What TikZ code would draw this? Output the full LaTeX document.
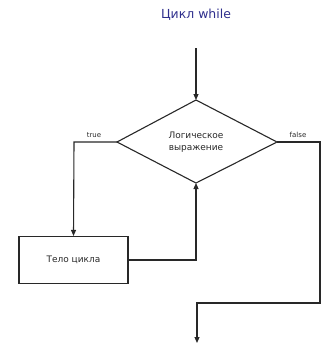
\documentclass[tikz,border=0pt]{standalone}
\usepackage{fontspec}
\setmainfont{DejaVu Sans}
\usetikzlibrary{arrows.meta,shapes.geometric}
\definecolor{titleblue}{HTML}{2E2E8C}
\definecolor{linegray}{HTML}{282828}
\begin{document}
\begin{tikzpicture}[x=1bp,y=-1bp,
  line/.style={draw=linegray,line width=1.1bp},
  arr/.style={line,-{Triangle[length=6bp,width=5bp]}},
  lbl/.style={font=\fontsize{7}{8}\selectfont,text=linegray,inner sep=0pt},
  boxtext/.style={font=\fontsize{9}{10.5}\selectfont,text=linegray}]
\useasboundingbox (0,0) rectangle (327,347);
\node[font=\fontsize{12.5}{14}\selectfont,text=titleblue] (title) at (196,15) {Цикл while};
\coordinate (start) at (196,48);
\coordinate (dt) at (196,100);
\coordinate (dl) at (117,142);
\coordinate (dr) at (277,142);
\coordinate (db) at (196,183);
\path[line] (dt) -- (dr) -- (db) -- (dl) -- cycle;
\node[boxtext,align=center] (cond) at (196,142) {Логическое\\[1bp]выражение};
\draw[arr] (start) -- (dt);
\node[line,minimum width=109bp,minimum height=47bp,inner sep=0pt] (body) at (73.5,260) {};
\node[boxtext] (bodytext) at (body.center) {Тело цикла};
\draw[arr] (dl) -- (74,142) -- (body.north);
\draw[arr] (body.east) -- (db |- body.east) -- (db);
\coordinate (endpt) at (197,343);
\draw[arr] (dr) -- (320,142) -- (320,303) -- (197,303) -- (endpt);
\node[lbl] (tl) at (94,135) {true};
\node[lbl] (fl) at (298,135) {false};
\end{tikzpicture}
\end{document}
